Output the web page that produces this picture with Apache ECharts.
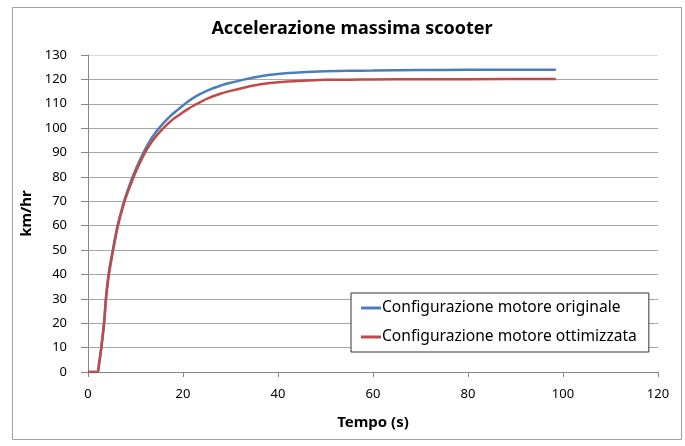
<!DOCTYPE html>
<html>
<head>
<meta charset="UTF-8">
<title>Accelerazione massima scooter</title>
<script src="https://cdn.jsdelivr.net/npm/echarts@6/dist/echarts.min.js"></script>
<style>
  html, body { margin: 0; padding: 0; background: #fff; }
  #chart { width: 685px; height: 446px; }
</style>
</head>
<body>
<div id="chart"></div>
<script>
// tempo (s)
var tempo = [0, 2, 2.3, 2.8, 3.4, 3.8, 4.4, 5.3, 6.3, 7.7, 8.5, 9.6, 10.8, 12, 13, 14, 15, 16, 17, 18, 19, 20, 21, 22.5, 25, 28, 30, 33, 36, 40, 45, 50, 55, 60, 70, 80, 98.5];
// velocita' km/hr
var velOriginale = [0, 0, 3, 10, 21, 31, 41, 51, 60.7, 70.7, 75.3, 81, 86.4, 91.2, 94.7, 97.6, 100.1, 102.3, 104.3, 106.1, 107.7, 109.3, 110.8, 112.8, 115.3, 117.5, 118.6, 120, 121.2, 122.2, 122.9, 123.3, 123.5, 123.6, 123.8, 123.9, 123.9];
var velOttimizzata = [0, 0, 3, 10, 20, 30, 40, 50, 60, 70, 74.4, 80, 85.3, 90, 93.2, 95.9, 98.2, 100.2, 102.1, 103.8, 105.2, 106.5, 107.8, 109.5, 112, 114.2, 115.3, 116.7, 117.9, 118.8, 119.4, 119.8, 119.9, 120, 120.1, 120.1, 120.2];
var nomiSerie = ['Configurazione motore originale', 'Configurazione motore ottimizzata'];
var coloriSerie = ['#4a7ebb', '#be4b48'];

function coppie(xs, ys) {
  var out = [];
  for (var i = 0; i < xs.length; i++) out.push([xs[i], ys[i]]);
  return out;
}

var font = 'Noto Sans';
var myChart = echarts.init(document.getElementById('chart'));

// colori delle linee di griglia: l'ultima (130) piu' chiara
var gridColors = [];
for (var k = 0; k < 13; k++) gridColors.push('#a6a6a6');
gridColors.push('#d9d9d9');

var option = {
  animation: false,
  textStyle: { fontFamily: font },
  title: {
    text: 'Accelerazione massima scooter',
    left: 347,
    textAlign: 'center',
    top: 15,
    textStyle: { fontSize: 18, fontWeight: 'bold', color: '#000', fontFamily: font }
  },
  graphic: [{
    type: 'rect',
    shape: { x: 12.5, y: 7.5, width: 669, height: 432 },
    style: { fill: null, stroke: '#a0a0a0', lineWidth: 1 },
    z: -1
  }],
  grid: { left: 88, right: 27, top: 55, bottom: 74 },
  legend: {
    orient: 'vertical',
    left: 351,
    top: 293,
    padding: [7, 12, 7, 10],
    itemGap: 13,
    itemWidth: 20,
    itemHeight: 3,
    icon: 'rect',
    backgroundColor: '#fff',
    borderColor: '#333',
    borderWidth: 1,
    textStyle: { fontSize: 15.6, color: '#000', fontFamily: font, padding: [0, 0, 0, -4] },
    data: nomiSerie
  },
  xAxis: {
    type: 'value',
    min: 0,
    max: 120,
    interval: 20,
    name: 'Tempo (s)',
    nameLocation: 'middle',
    nameGap: 43,
    nameTextStyle: { fontSize: 15, fontWeight: 'bold', color: '#000', fontFamily: font },
    axisLine: { show: true, lineStyle: { color: '#868686', width: 1 } },
    axisTick: { show: true, length: 5, lineStyle: { color: '#868686' } },
    axisLabel: { margin: 16, fontSize: 13, color: '#000', fontFamily: font },
    splitLine: { show: false }
  },
  yAxis: {
    type: 'value',
    min: 0,
    max: 130,
    interval: 10,
    name: 'km/hr',
    nameLocation: 'middle',
    nameGap: 52,
    nameRotate: 90,
    nameTextStyle: { fontSize: 15, fontWeight: 'bold', color: '#000', fontFamily: font },
    axisLine: { show: true, lineStyle: { color: '#868686', width: 1 } },
    axisTick: { show: true, length: 7, inside: false, lineStyle: { color: '#868686' } },
    axisLabel: { margin: 21, fontSize: 13, color: '#000', fontFamily: font },
    splitLine: { show: true, lineStyle: { color: gridColors, width: 1 } }
  },
  series: [{
    name: nomiSerie[0],
    type: 'line',
    smooth: 0.25,
    symbol: 'none',
    data: coppie(tempo, velOriginale),
    lineStyle: { color: coloriSerie[0], width: 2.5 },
    itemStyle: { color: coloriSerie[0] }
  }, {
    name: nomiSerie[1],
    type: 'line',
    smooth: 0.25,
    symbol: 'none',
    data: coppie(tempo, velOttimizzata),
    lineStyle: { color: coloriSerie[1], width: 2.5 },
    itemStyle: { color: coloriSerie[1] }
  }]
};

myChart.setOption(option);
window.onresize = myChart.resize;
</script>
</body>
</html>
